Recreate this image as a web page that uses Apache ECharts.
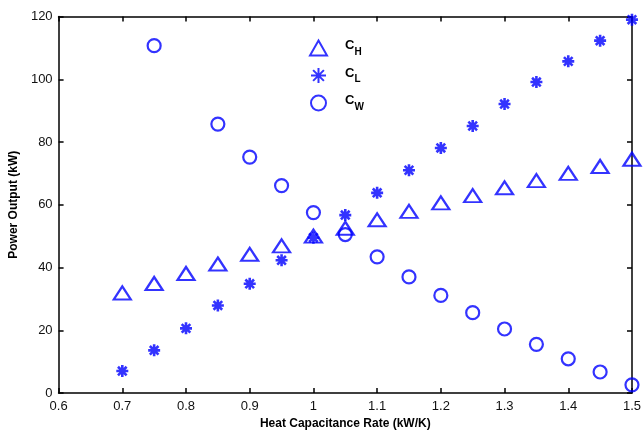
<!DOCTYPE html>
<html>
<head>
<meta charset="utf-8">
<script src="https://cdn.jsdelivr.net/npm/echarts@6/dist/echarts.min.js"></script>
<style>
html,body{margin:0;padding:0;background:#fff;}
#c{width:644px;height:436px;}
</style>
</head>
<body>
<div id="c"></div>
<script>
const xs = [0.7, 0.75, 0.8, 0.85, 0.9, 0.95, 1.0, 1.05, 1.1, 1.15, 1.2, 1.25, 1.3, 1.35, 1.4, 1.45, 1.5];
const CH = [31.9, 34.9, 38.1, 41.1, 44.2, 46.9, 50.0, 52.5, 55.2, 57.9, 60.6, 62.9, 65.4, 67.7, 70.0, 72.2, 74.5];
const CL = [7.0, 13.6, 20.6, 27.9, 34.8, 42.3, 49.5, 56.7, 63.8, 71.0, 78.1, 85.1, 92.1, 99.1, 105.7, 112.3, 119.0];
const CW = [null, 110.7, null, 85.7, 75.2, 66.1, 57.5, 50.5, 43.4, 37.0, 31.1, 25.6, 20.4, 15.5, 10.9, 6.7, 2.6];
const seriesNames = ['CH', 'CL', 'CW'];
const legendMain = ['C', 'C', 'C'];
const legendSub = ['H', 'L', 'W'];
const xTicks = {min: 0.6, max: 1.5, interval: 0.1};
const yTicks = {min: 0, max: 120, interval: 20};

const BLUE = '#0000ff';
const FONT = 'Liberation Sans, Arial, sans-serif';
const pairs = arr => xs.map((x, i) => arr[i] == null ? null : [x, arr[i]]).filter(p => p);
const asterisk = 'path://M0,-1L0,1M-1,0L1,0M-0.72,-0.72L0.72,0.72M-0.72,0.72L0.72,-0.72';

const chart = echarts.init(document.getElementById('c'), null, {renderer: 'canvas'});
const axisCommon = {
  axisLine: {show: true, onZero: false, lineStyle: {color: '#000', width: 1.5}},
  axisTick: {show: true, inside: true, length: 5, lineStyle: {color: '#000', width: 1.5}},
  splitLine: {show: false}
};
const fmtX = v => (Math.round(v * 10) / 10).toString();
chart.setOption({
  animation: false,
  backgroundColor: '#fff',
  grid: {left: 56, right: 12, top: 16.5, bottom: 43},
  legend: {
    orient: 'vertical',
    left: 304, top: 33,
    itemWidth: 17, itemHeight: 15, itemGap: 8.5,
    data: seriesNames,
    formatter: name => {
      const i = seriesNames.indexOf(name);
      return '{m|' + legendMain[i] + '}{s|' + legendSub[i] + '}';
    },
    textStyle: {
      padding: [0, 0, 0, 13],
      rich: {
        m: {fontFamily: FONT, fontWeight: 'bold', fontSize: 13, color: '#000', lineHeight: 18, verticalAlign: 'top'},
        s: {fontFamily: FONT, fontWeight: 'bold', fontSize: 10, color: '#000', lineHeight: 18, verticalAlign: 'bottom', padding: [9, 0, 0, 0]}
      }
    }
  },
  xAxis: [
    Object.assign({
      type: 'value', position: 'bottom', min: xTicks.min, max: xTicks.max, interval: xTicks.interval,
      name: 'Heat Capacitance Rate (kW/K)', nameLocation: 'middle', nameGap: 23,
      nameTextStyle: {fontFamily: FONT, fontWeight: 'bold', fontSize: 12, color: '#000'},
      axisLabel: {fontFamily: FONT, fontSize: 13, color: '#111', margin: 7, formatter: fmtX, showMinLabel: true, showMaxLabel: true}
    }, axisCommon),
    Object.assign({
      type: 'value', position: 'top', min: xTicks.min, max: xTicks.max, interval: xTicks.interval,
      axisLabel: {show: false}
    }, axisCommon)
  ],
  yAxis: [
    Object.assign({
      type: 'value', position: 'left', min: yTicks.min, max: yTicks.max, interval: yTicks.interval,
      name: 'Power Output (kW)', nameLocation: 'middle', nameGap: 38,
      nameTextStyle: {fontFamily: FONT, fontWeight: 'bold', fontSize: 12, color: '#000'},
      axisLabel: {fontFamily: FONT, fontSize: 13, color: '#111', margin: 6}
    }, axisCommon),
    Object.assign({
      type: 'value', position: 'right', min: yTicks.min, max: yTicks.max, interval: yTicks.interval,
      axisLabel: {show: false}
    }, axisCommon)
  ],
  series: [
    {
      name: 'CH', type: 'scatter', data: pairs(CH), symbol: 'triangle', symbolSize: [17, 13],
      itemStyle: {color: 'rgba(0,0,0,0)', borderColor: BLUE, borderWidth: 2.2}
    },
    {
      name: 'CL', type: 'scatter', data: pairs(CL), symbol: asterisk, symbolSize: 12,
      itemStyle: {color: 'rgba(0,0,0,0)', borderColor: BLUE, borderWidth: 2.6}
    },
    {
      name: 'CW', type: 'scatter', data: pairs(CW), symbol: 'circle', symbolSize: 13,
      itemStyle: {color: 'rgba(0,0,0,0)', borderColor: BLUE, borderWidth: 2.2}
    }
  ]
});
</script>
</body>
</html>
